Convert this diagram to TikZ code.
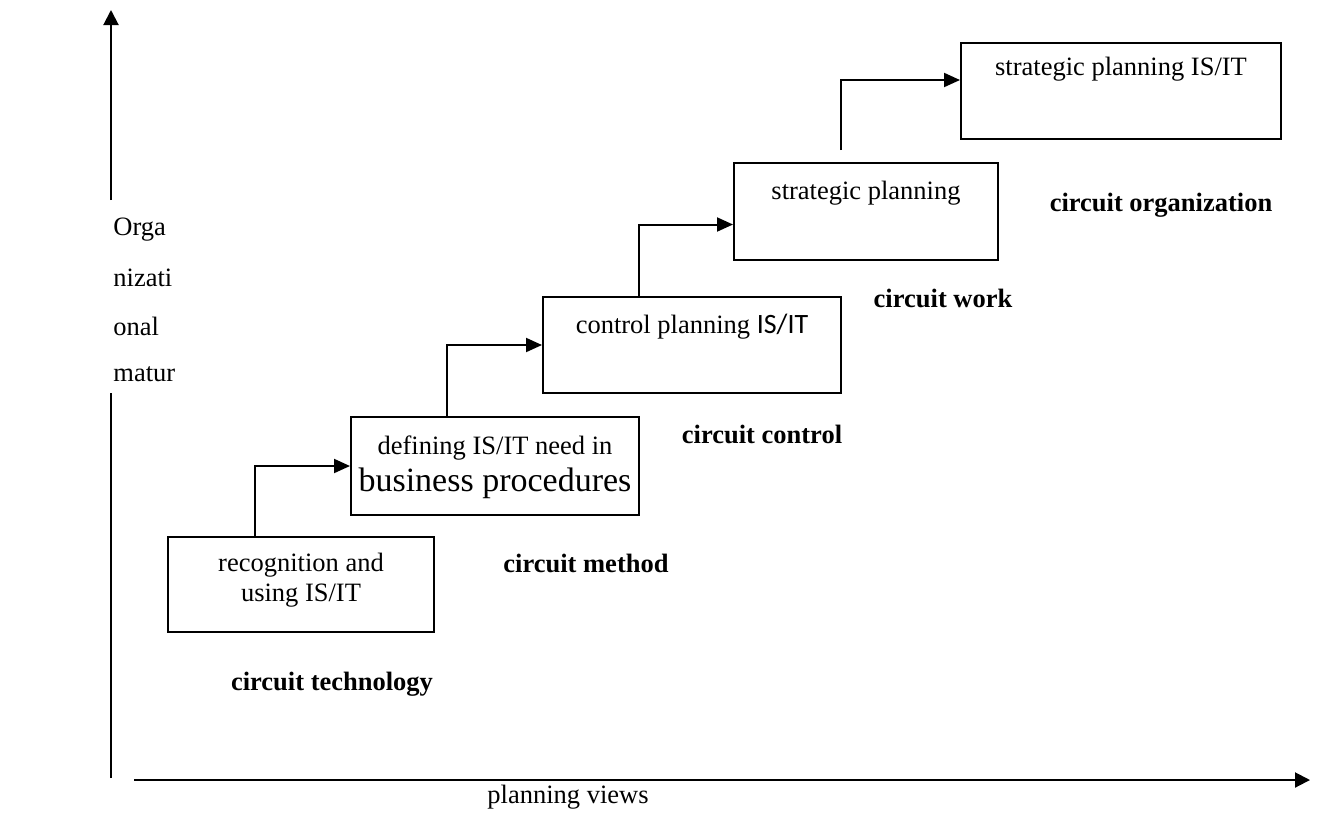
\documentclass[tikz,border=0pt]{standalone}
\usepackage{fontspec}
\setmainfont{Liberation Serif}
\newfontfamily\calibrifont{Carlito}
\usetikzlibrary{arrows.meta,calc}
\begin{document}
\begin{tikzpicture}[x=0.5pt,y=-0.5pt,
  box/.style={draw,line width=1pt,inner sep=0pt},
  conn/.style={line width=1pt,-{Triangle[length=8pt,width=7pt]}},
  axis/.style={line width=1pt},
  axisarrow/.style={line width=1pt,-{Triangle[length=7.5pt,width=7.5pt]}},
  txt/.style={font=\fontsize{13.25}{15}\selectfont,inner sep=0pt},
  lab/.style={font=\fontsize{13.25}{15}\selectfont\bfseries,inner sep=0pt},
]
\useasboundingbox (0,0) rectangle (1321,815);

% axes
\coordinate (yb) at (111,778);
\coordinate (yg1) at (111,393);
\coordinate (yg2) at (111,200);
\coordinate (yt) at (111,10);
\coordinate (xs) at (134,780);
\coordinate (xt) at (1310,780);
\draw[axis] (yb) -- (yg1);
\draw[axisarrow] (yg2) -- (yt);
\draw[axisarrow] (xs) -- (xt);

% axis labels
\node[txt,anchor=west] (yl1) at (113,230) {Orga};
\node[txt,anchor=west] (yl2) at (113,278) {nizati};
\node[txt,anchor=west] (yl3) at (113,326) {onal};
\node[txt,anchor=west] (yl4) at (113,374) {matur};
\node[txt] (xl) at (568,797) {planning views};

% boxes
\node[box,minimum width=133pt,minimum height=47.5pt] (b1) at (301,584.5) {};
\node[box,minimum width=144pt,minimum height=49pt] (b2) at (495,466) {};
\node[box,minimum width=149pt,minimum height=48pt] (b3) at (692,345) {};
\node[box,minimum width=132pt,minimum height=48.5pt] (b4) at (866,211.5) {};
\node[box,minimum width=160pt,minimum height=48pt] (b5) at (1121,91) {};

% box texts
\node[txt,align=center] (t1) at (301,580) {recognition and\\using IS/IT};
\node[txt] (t2a) at (495,448) {defining IS/IT need in};
\node[txt,font=\fontsize{17}{19}\selectfont] (t2b) at (495,483) {business procedures};
\node[txt] (t3) at (692,327) {control planning {\calibrifont\fontsize{14}{16}\selectfont IS/IT}};
\node[txt] (t4) at (866,193) {strategic planning};
\node[txt] (t5) at (1121,69) {strategic planning IS/IT};

% connectors
\draw[conn] ($(b1.north)+(-46,0)$) |- (b2.west);
\draw[conn] ($(b2.north)+(-48,0)$) |- (b3.west);
\draw[conn] ($(b3.north)+(-53,0)$) |- ($(b4.west)+(0,13)$);
\draw[conn] ($(b4.north)+(-25,-12)$) |- ($(b5.west)+(0,-11)$);

% stage labels
\node[lab] (l1) at (332,684) {circuit technology};
\node[lab] (l2) at (586,563) {circuit method};
\node[lab] (l3) at (762,434) {circuit control};
\node[lab] (l4) at (943,298) {circuit work};
\node[lab] (l5) at (1161,205) {circuit organization};
\end{tikzpicture}
\end{document}
